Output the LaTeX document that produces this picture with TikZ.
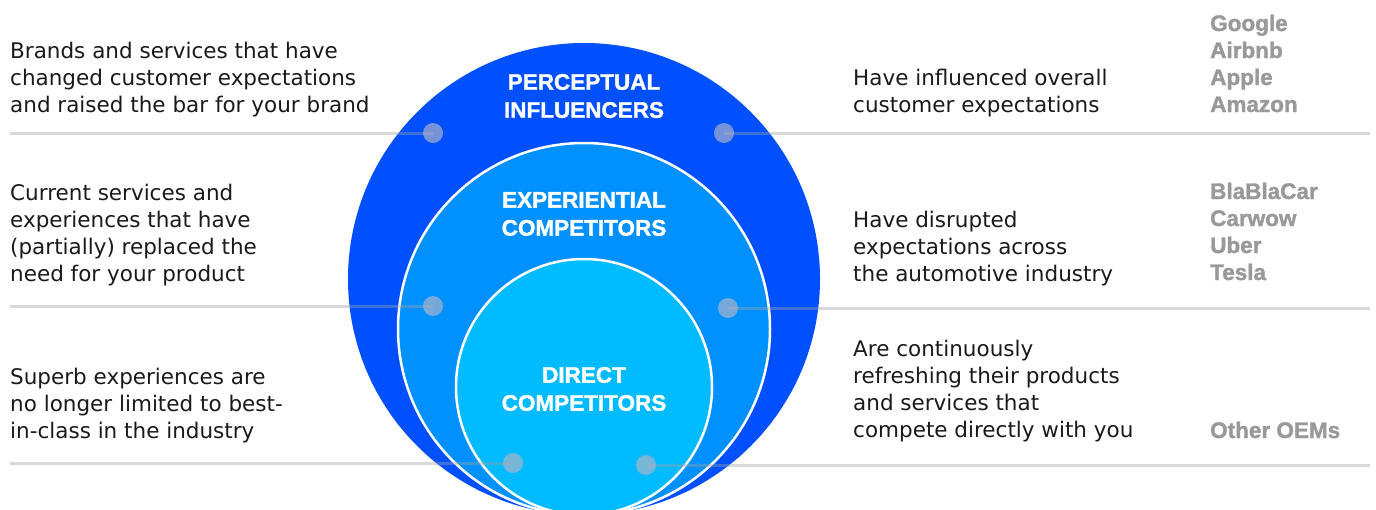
\documentclass[tikz,border=0pt]{standalone}
\usepackage{fontspec}
\setmainfont{DejaVu Sans}
\newfontfamily\headfont[BoldFeatures={FakeBold=1.5}]{Liberation Sans}
\usetikzlibrary{positioning}
\definecolor{outerblue}{RGB}{0,80,255}
\definecolor{midblue}{RGB}{0,145,255}
\definecolor{innerblue}{RGB}{0,187,255}
\definecolor{rulegray}{RGB}{160,160,160}
\definecolor{dotgray}{RGB}{175,180,200}
\definecolor{brandgray}{RGB}{153,153,153}
\definecolor{textblack}{RGB}{26,26,26}
\tikzset{
  desc/.style={anchor=base west, align=left, inner sep=0pt, text=textblack,
    font=\fontsize{21.5}{27}\selectfont},
  brand/.style={anchor=base west, align=left, inner sep=0pt, text=brandgray,
    font=\headfont\bfseries\fontsize{22.5}{27}\selectfont},
  ringtitle/.style={align=center, inner sep=0pt, text=white,
    font=\headfont\bfseries\fontsize{22.5}{28}\selectfont},
  dot/.style={circle, fill=dotgray, fill opacity=0.68, minimum size=20pt, inner sep=0pt},
  rule/.style={rulegray, line width=3pt, draw opacity=0.4},
}
\begin{document}
\begin{tikzpicture}[x=1pt,y=-1pt]
\useasboundingbox (0,0) rectangle (1376,509);
\coordinate (O1) at (584,279);
\coordinate (O2) at (584,329);
\coordinate (O3) at (584,387);
% the three rings
\fill[outerblue] (O1) circle [radius=236pt];
\filldraw[fill=midblue, draw=white, line width=2.5pt] (O2) circle [radius=186pt];
\filldraw[fill=innerblue, draw=white, line width=2.5pt] (O3) circle [radius=128pt];
\node[ringtitle] (tPI) at (584,96) {PERCEPTUAL\\INFLUENCERS};
\node[ringtitle] (tEC) at (584,214) {EXPERIENTIAL\\COMPETITORS};
\node[ringtitle] (tDC) at (584,389) {DIRECT\\COMPETITORS};
% rows
\coordinate (lA) at (10,133);
\coordinate (rA) at (1370,133);
\coordinate (lB) at (10,306);
\coordinate (rB) at (1370,308);
\coordinate (lC) at (10,463);
\coordinate (rC) at (1370,465);
\draw[rule] (lA) -- (433,133) coordinate (pA1);
\draw[rule] (724,133) coordinate (pA2) -- (rA);
\draw[rule] (lB) -- (433,306) coordinate (pB1);
\draw[rule] (728,308) coordinate (pB2) -- (rB);
\draw[rule] (lC) -- (513,463) coordinate (pC1);
\draw[rule] (646,465) coordinate (pC2) -- (rC);
\node[dot] (dA1) at (pA1) {};
\node[dot] (dA2) at (pA2) {};
\node[dot] (dB1) at (pB1) {};
\node[dot] (dB2) at (pB2) {};
\node[dot] (dC1) at (pC1) {};
\node[dot] (dC2) at (pC2) {};
% left texts (placed by the baseline of the last line)
\node[desc] (leftA) at (10,112) {Brands and services that have\\changed customer expectations\\and raised the bar for your brand};
\node[desc] (leftB) at (10,281) {Current services and\\experiences that have\\(partially) replaced the\\need for your product};
\node[desc] (leftC) at (10,438) {Superb experiences are\\no longer limited to best-\\in-class in the industry};
% right texts
\node[desc] (rightA) at (853,112) {Have influenced overall\\customer expectations};
\node[desc] (rightB) at (853,281) {Have disrupted\\expectations across\\the automotive industry};
\node[desc] (rightC) at (853,437) {Are continuously\\refreshing their products\\and services that\\compete directly with you};
% examples
\node[brand] (brandA) at (1210,112) {Google\\Airbnb\\Apple\\Amazon};
\node[brand] (brandB) at (1210,280) {BlaBlaCar\\Carwow\\Uber\\Tesla};
\node[brand] (brandC) at (1210,438) {Other OEMs};
\end{tikzpicture}
\end{document}
